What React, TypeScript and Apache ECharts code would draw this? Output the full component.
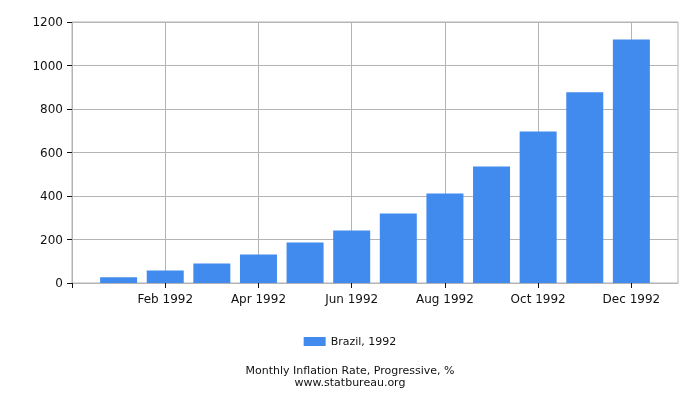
import * as echarts from "echarts";
import React, { useEffect, useRef } from "react";

const months = [
  "Jan 1992", "Feb 1992", "Mar 1992", "Apr 1992", "May 1992", "Jun 1992",
  "Jul 1992", "Aug 1992", "Sep 1992", "Oct 1992", "Nov 1992", "Dec 1992",
];
const inflation = [26, 57, 90, 131, 186, 241, 320, 412, 536, 697, 877, 1120];
const yTicks = [0, 200, 400, 600, 800, 1000, 1200];
const seriesName = "Brazil, 1992";

const App: React.FC = () => {
  const chartRef = useRef<HTMLDivElement | null>(null);

  useEffect(() => {
    if (!chartRef.current) return;
    const chart = echarts.init(chartRef.current, undefined, { renderer: "svg" });

    // pad one empty slot each side so months sit on the ticks
    const categories = ["", ...months, ""];
    const values = [null, ...inflation, null];
    const showEven = (i: number) => i % 2 === 0 && i > 0 && i < categories.length - 1;

    const option: echarts.EChartsOption = {
      animation: false,
      textStyle: { fontFamily: "DejaVu Sans" },
      grid: {
        left: 72,
        right: 22,
        top: 22,
        bottom: 117,
        show: true,
        borderColor: "#b4b4b4",
        borderWidth: 1,
      },
      legend: {
        data: [seriesName],
        top: 331,
        left: "center",
        itemWidth: 22,
        itemHeight: 9,
        itemGap: 10,
        icon: "rect",
        textStyle: { fontSize: 11, color: "#111", fontFamily: "DejaVu Sans" },
      },
      title: {
        text: "Monthly Inflation Rate, Progressive, %\nwww.statbureau.org",
        left: "center",
        top: 364,
        padding: 0,
        textStyle: {
          fontSize: 11,
          fontWeight: "normal",
          color: "#111",
          lineHeight: 12,
          fontFamily: "DejaVu Sans",
        },
      },
      xAxis: {
        type: "category",
        data: categories,
        boundaryGap: false,
        axisLine: { show: true, lineStyle: { color: "#b4b4b4" } },
        axisTick: {
          show: true,
          interval: 1,
          length: 5,
          lineStyle: { color: "#111", width: 1 },
        },
        axisLabel: {
          interval: showEven,
          fontSize: 12,
          color: "#111",
          margin: 10,
        },
        splitLine: {
          show: true,
          interval: showEven,
          lineStyle: { color: "#b4b4b4" },
        },
      },
      yAxis: {
        type: "value",
        min: yTicks[0],
        max: yTicks[yTicks.length - 1],
        interval: 200,
        axisLine: { show: true, lineStyle: { color: "#b4b4b4" } },
        axisTick: { show: true, length: 5, lineStyle: { color: "#111" } },
        axisLabel: {
          fontSize: 12,
          color: "#111",
          margin: 9,
          formatter: (v: number) => String(v),
        },
        splitLine: { lineStyle: { color: "#b4b4b4" } },
      },
      series: [
        {
          name: seriesName,
          type: "bar",
          data: values,
          barWidth: 37,
          itemStyle: { color: "#418bef" },
        },
      ],
    };

    chart.setOption(option);
    return () => {
      chart.dispose();
    };
  }, []);

  return (
    <div
      ref={chartRef}
      style={{ position: "fixed", left: 0, top: 0, width: "700px", height: "400px" }}
    />
  );
};

export default App;
